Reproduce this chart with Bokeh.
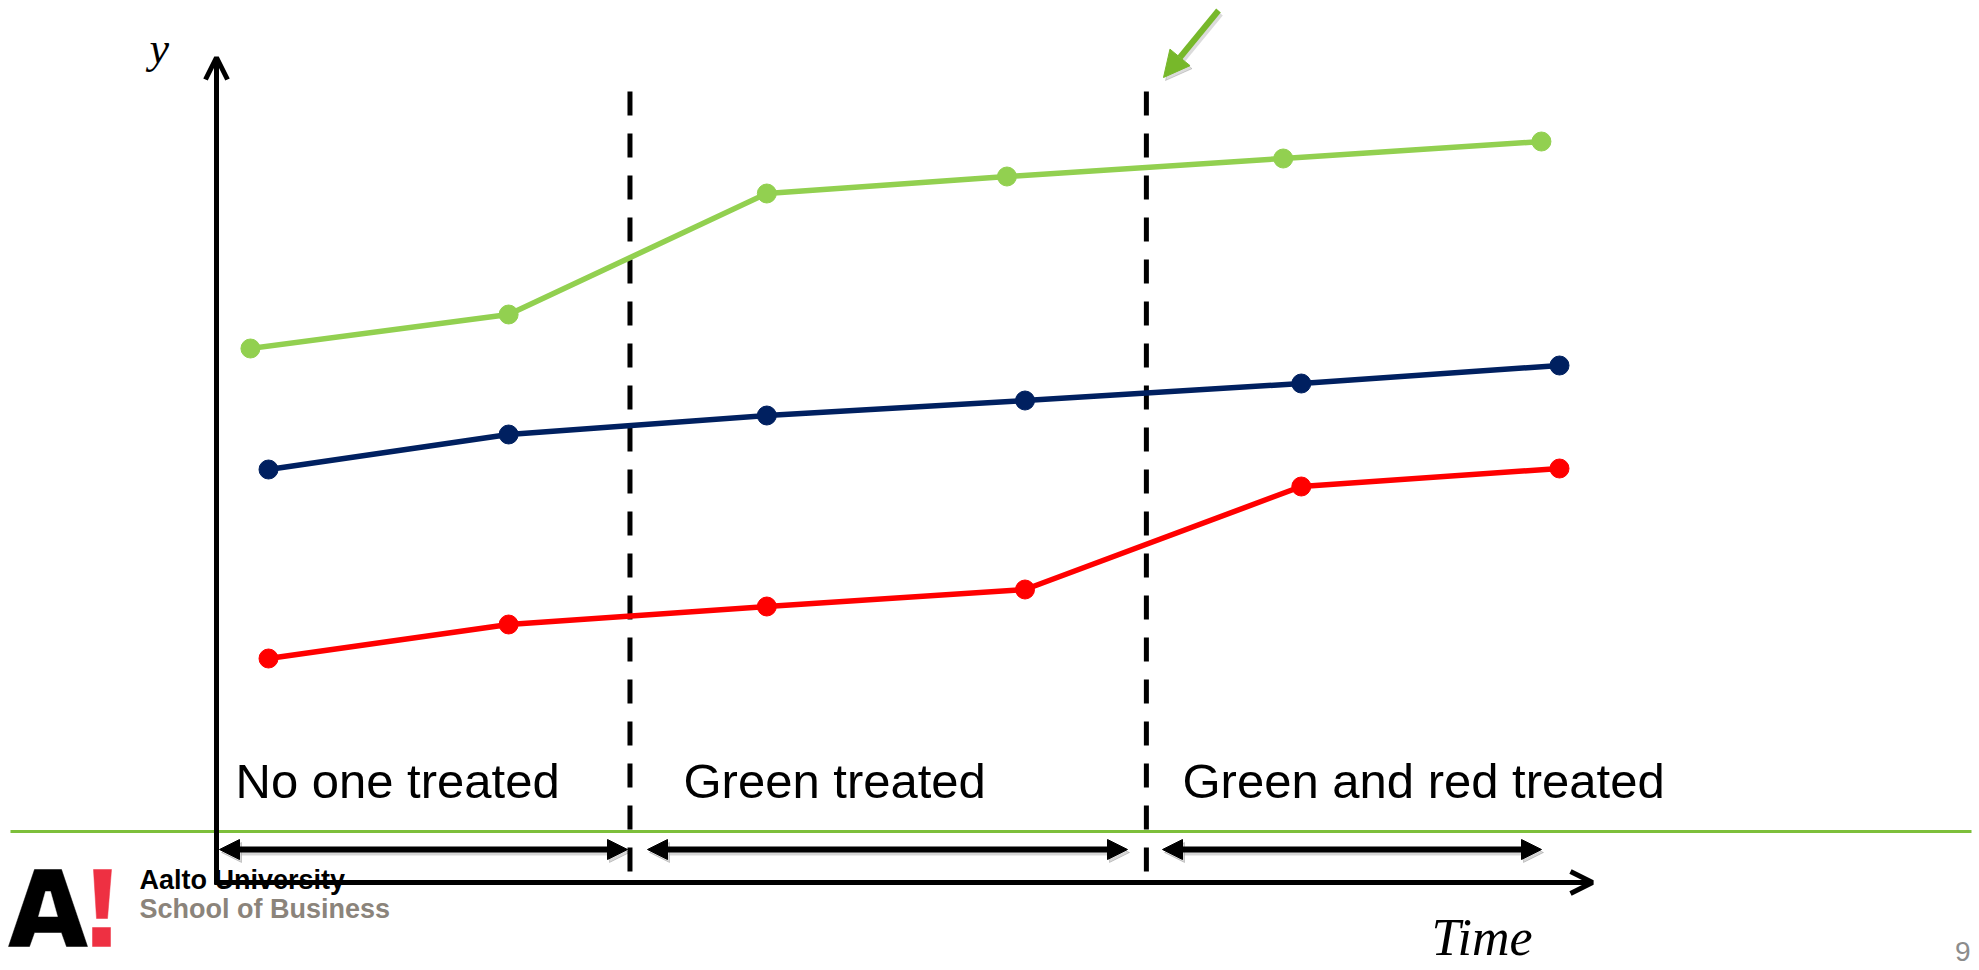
from bokeh.plotting import figure
from bokeh.models import Arrow, NormalHead, OpenHead, Label
from bokeh.embed import file_html
from bokeh.resources import INLINE

# ---- data -------------------------------------------------------------
# observation times of each group (periods) and outcome levels
green_time = [0.93, 1.93, 2.93, 3.86, 4.93, 5.93]
green_y = [5.34, 5.68, 6.89, 7.06, 7.24, 7.41]

navy_time = [1.0, 1.93, 2.93, 3.93, 5.0, 6.0]
navy_y = [4.13, 4.48, 4.67, 4.82, 4.99, 5.17]

red_time = [1.0, 1.93, 2.93, 3.93, 5.0, 6.0]
red_y = [2.24, 2.58, 2.76, 2.93, 3.96, 4.14]

# moments at which treatment starts (green, then red)
treatment_times = [2.4, 4.4]
period_labels = ["No one treated", "Green treated", "Green and red treated"]

GREEN = "#92d050"
NAVY = "#002060"
RED = "#ff0000"

W, H = 1979, 970

# canvas-pixel helpers used for the decorative layout (axes, logo, captions)
X0, XS = 268.0, 258.2
Y0, YS = 882.0, 100.0


def X(px):
    return 1 + (px - X0) / XS


def Y(py):
    return (Y0 - py) / YS


def text_y(baseline_px, font_px):
    # place a label so that its baseline sits at the given canvas row
    return Y(baseline_px - 0.33 * font_px)


p = figure(width=W, height=H, output_backend="svg", toolbar_location=None,
           x_range=(X(0), X(W)), y_range=(Y(H), Y(0)),
           x_axis_type=None, y_axis_type=None, min_border=0,
           min_border_left=0, min_border_right=0, min_border_top=0,
           min_border_bottom=0, outline_line_color=None,
           background_fill_color="white", border_fill_color="white")
p.grid.visible = False

# ---- footer: separator line and logo -----------------------------------
p.line([X(10), X(1971)], [Y(831), Y(831)], line_color="#7dbf3b", line_width=3)

a_outer_x = [8, 34, 61, 87, 66, 61, 34, 29]
a_outer_y = [946, 869, 869, 946, 946, 932, 932, 946]
p.patch([X(v) for v in a_outer_x], [Y(v) for v in a_outer_y],
        fill_color="black", line_color="black", line_width=0.5)
p.patch([X(v) for v in [45, 50, 57, 38]], [Y(v) for v in [891, 891, 916, 916]],
        fill_color="white", line_color="white", line_width=0.5)
p.patch([X(v) for v in [93, 111, 107, 96]], [Y(v) for v in [869, 869, 918, 918]],
        fill_color="#ee3042", line_color="#ee3042", line_width=0.5)
p.patch([X(v) for v in [92, 110, 110, 92]], [Y(v) for v in [927, 927, 946, 946]],
        fill_color="#ee3042", line_color="#ee3042", line_width=0.5)

p.add_layout(Label(x=X(139), y=text_y(888, 27), text="Aalto University",
                   text_font="Liberation Sans", text_font_style="bold",
                   text_font_size="27px", text_color="black",
                   text_baseline="alphabetic"))
p.add_layout(Label(x=X(139), y=text_y(917, 27), text="School of Business",
                   text_font="Liberation Sans", text_font_style="bold",
                   text_font_size="27px", text_color="#8b847b",
                   text_baseline="alphabetic"))

# ---- treatment boundaries ----------------------------------------------
for t in treatment_times:
    p.line([t, t], [Y(91), Y(882)], line_color="black", line_width=5,
           line_dash="24 18")

# ---- period spans (double arrows with soft shadow) ----------------------
spans = [(X(219), X(627)), (X(647), X(1127)), (X(1162), X(1541))]
sy = Y(849)
for x0, x1 in spans:
    for dx, dy, col, alpha in [(2, 3, "#000000", 0.16), (0, 0, "black", 1.0)]:
        head = dict(size=20, fill_color=col, line_color=col,
                    fill_alpha=alpha, line_alpha=alpha, line_width=1)
        p.add_layout(Arrow(x_start=x0 + dx / XS, y_start=sy - dy / YS,
                           x_end=x1 + dx / XS, y_end=sy - dy / YS,
                           line_width=6, line_color=col, line_alpha=alpha,
                           start=NormalHead(**head), end=NormalHead(**head)))

# ---- axes -----------------------------------------------------------------
ax_x = X(216)
p.add_layout(Arrow(x_start=ax_x, y_start=Y(884), x_end=ax_x, y_end=Y(57),
                   line_width=5, line_color="black",
                   end=OpenHead(size=22, line_width=5, line_color="black")))
p.add_layout(Arrow(x_start=X(214), y_start=Y(882), x_end=X(1592), y_end=Y(882),
                   line_width=5, line_color="black",
                   end=OpenHead(size=22, line_width=5, line_color="black")))

p.add_layout(Label(x=X(149), y=text_y(63, 44), text="y",
                   text_font="Liberation Serif",
                   text_font_style="italic", text_font_size="44px",
                   text_color="black", text_baseline="alphabetic"))
p.add_layout(Label(x=X(1431), y=text_y(954, 52), text="Time",
                   text_font="Liberation Serif",
                   text_font_style="italic", text_font_size="52px",
                   text_color="black", text_baseline="alphabetic"))

# ---- period captions --------------------------------------------------------
for label, px in zip(period_labels, [235, 683, 1182]):
    p.add_layout(Label(x=X(px), y=text_y(797, 49), text=label,
                       text_font="Liberation Sans", text_font_size="49px",
                       text_color="black", text_baseline="alphabetic"))

# ---- series -------------------------------------------------------------------
for tx, ty, col in [(green_time, green_y, GREEN), (navy_time, navy_y, NAVY),
                    (red_time, red_y, RED)]:
    p.line(tx, ty, line_color=col, line_width=5.5)
    p.scatter(tx, ty, size=19, fill_color=col, line_color=col)

# ---- pointer arrow at the second treatment -----------------------------------
for dx, dy, col, alpha in [(2, 3, "#000000", 0.14), (0, 0, "#77b82a", 1.0)]:
    p.add_layout(Arrow(x_start=X(1218 + dx), y_start=Y(10 + dy),
                       x_end=X(1163 + dx), y_end=Y(77 + dy),
                       line_width=6, line_color=col, line_alpha=alpha,
                       end=NormalHead(size=26, fill_color=col, line_color=col,
                                      fill_alpha=alpha, line_alpha=alpha,
                                      line_width=1)))

# ---- page number ---------------------------------------------------------------
p.add_layout(Label(x=X(1970), y=text_y(960, 28), text="9",
                   text_font="Liberation Sans",
                   text_font_size="28px", text_color="#8c8c8c",
                   text_align="right", text_baseline="alphabetic"))

open("out.html", "w").write(file_html(p, INLINE))
